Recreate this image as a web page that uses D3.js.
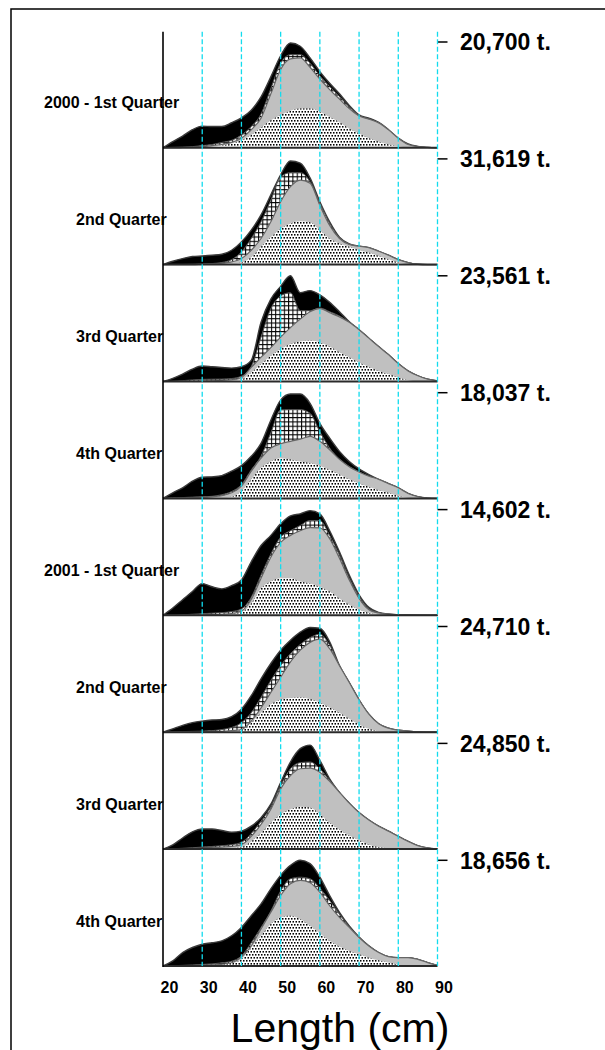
<!DOCTYPE html>
<html><head><meta charset="utf-8">
<script src="https://cdn.jsdelivr.net/npm/d3@7"></script>
<style>html,body{margin:0;padding:0;background:#fff;}svg{display:block;}</style>
</head><body><svg id="c" width="605" height="1050"></svg>
<script>
// Length classes (cm)
const lengths = [20,22.5,25,27.5,30,32.5,35,37.5,40,42.5,45,47.5,50,52.5,55,57.5,60,62.5,65,67.5,70,72.5,75,77.5,80,82.5,85,87.5,90];
const xTicks = [20,30,40,50,60,70,80,90];
const quarterLabels = ["2000 - 1st Quarter","2nd Quarter","3rd Quarter","4th Quarter","2001 - 1st Quarter","2nd Quarter","3rd Quarter","4th Quarter"];
const catchTonnes = [20700,31619,23561,18037,14602,24710,24850,18656];

// Cumulative upper edge (% of panel maximum) of each stacked layer, per quarter
const dotsTop = [
 [0,0,0.1,0.3,0.6,1,2,4,7,12,19,26,31,35,37,37,34,29,24,18,13.5,9,5.7,3,1.2,0.4,0.1,0,0],
 [0,0,0,0,0,0.2,0.4,1,2,7,16.8,26,34,39,41,40,32.6,24.7,20,16.8,13.6,11.4,8.2,5,1.9,0.3,0,0,0],
 [0,0,0,0,0.2,0.3,0.5,1,2,8.6,16.5,24.4,30.8,35.5,37.8,38.7,37,33,27.6,22.9,18,14,10,7,3.8,1.3,0.3,0,0],
 [0,0,0.1,0.2,0.3,0.6,1,1.6,7,18,29,35,38,36.7,35,33.5,31,27,22.6,18,14,11,7.8,5.3,2.2,0.6,0,0,0],
 [0,0,0,0,0,0.2,0.5,1.2,3,11,25.6,32,35,35,32,30,27,22.5,16,10,5.3,2.2,0.6,0,0,0,0,0,0],
 [0,0,0,0,0,0.1,0.3,0.8,1.9,9,18.5,26.5,30.7,32.3,33,31.3,28,23.3,18.5,12.8,7.3,3.2,1,0.3,0,0,0,0,0],
 [0,0,0,0,0,0.1,0.3,0.8,1.9,7.3,15.3,25,33,37.7,40,39.3,33,25,18.5,12.8,8.3,4.2,1.9,0.6,0,0,0,0,0],
 [0,0,0,0,0.2,0.5,1,2.5,6.5,17.5,28.6,39.7,46,47.6,44.4,38,31,23.8,18.4,14.3,11,7.9,5.4,3.2,1.3,0.6,0,0,0]
];
const grayTop = [
 [0,0,0.2,0.5,1,2,3,5,9,17,28,51,74,84,85,76,65,55,46,37,30,27,23.5,17,9,3,1,0.3,0],
 [0,0,0,0,0.3,0.6,1.3,2.5,5.7,13.6,24.7,40.5,59.5,73.7,80,77,56,37,24.7,19,17.4,16,12.6,8.9,4.7,1.9,0.3,0,0],
 [0,0,0,0.2,0.5,0.7,1,1.5,3.8,13.3,23,32,42,51,59,66,69,65,61,56,49,41,33,25.4,17,10,5.4,2.2,0.6],
 [0,0.2,0.4,0.8,1,1.5,2.5,5.3,11.6,25.7,38,47.6,51.7,54,56,58.6,54,46,37,30,25,21,18,14,10,4.7,1.6,0.3,0],
 [0,0,0.1,0.2,0.5,0.7,1,1.5,4,15,35,55,69,75.6,80,83,82.8,72.5,54,33.4,16,5.3,2.2,0.9,0.6,0.3,0.1,0,0],
 [0,0,0,0.1,0.3,0.5,0.8,1.5,2.5,10.5,23,37.7,52,66.5,77.6,85,88,79,63,47,30.7,17,8,3.8,1.9,1,0.3,0,0],
 [0,0,0.3,0.6,1,1.3,1.9,2.5,4.2,12,23.3,37.7,57,69.6,76,76.7,72.8,64,53.7,43.5,34.5,27.5,21.7,17,12,7.3,3.2,1,0],
 [0,0,0,0.3,0.6,1,1.6,3,8.5,19,35,50.8,66.7,77.8,81,78.7,69.8,57,46,36.5,27,19,12.7,8.9,7.9,7.9,6.3,3.2,0.6]
];
const gridTop = [
 [0,0.3,0.6,1,2,3,5,7,12,20,32,56,80,88,88,80,68,58,48.5,38.5,30.5,27,23.5,17,9,3,1,0.3,0],
 [0,0.1,0.1,0.3,0.6,1,2,4.7,12,24.7,40.5,61,83,87,87,78.5,58,39,25.5,19.5,17.4,16,12.6,8.9,4.7,1.9,0.3,0,0],
 [0,0.3,0.8,1.5,2,2.2,2.3,2.8,5,14,42,69,81,84,67,67,69.5,66,62,56,49,41,33,25.4,17,10,5.4,2.2,0.6],
 [0,0.5,0.8,1.2,1.5,2,3.5,6.5,13,27,40,62,83.7,84,84,80.5,63,47.6,37,30,25,21,18,14,10,4.7,1.6,0.3,0],
 [0,0.2,0.5,1,1.5,2,2.5,3.5,6,17,38,58,74,80,85,89.7,89.7,75.6,57,35,17.8,6,2.4,1,0.6,0.3,0.1,0,0],
 [0,0.3,0.6,0.8,1,1.5,2.5,4.5,9,18.5,33,49,63,74.4,83,89.5,92.7,82.4,63,47,30.7,17,8,3.8,1.9,1,0.3,0,0],
 [0,0.3,0.8,1.3,1.9,2.5,3.2,4.2,6.4,14.7,26.5,40,60,76,81.8,82.4,76,65,53.7,43.5,34.5,27.5,21.7,17,12,7.3,3.2,1,0],
 [0,0.3,0.6,1,1.5,2,3,4.5,9.5,22,36.5,52,71,82.5,84,82.5,73.6,62,49,37,27,19,12.7,8.9,7.9,7.9,6.3,3.2,0.6]
];
const blackTop = [
 [0,5.7,11,17,20.4,20,20,23.6,28.3,35.5,48,67,87,99,96,85,72,61,51,40,31,28,24,17,9,3.5,1.2,0.3,0],
 [0,3.2,5.7,7.6,8.2,8.9,9.8,13.6,21.5,32.6,47,66,85,98,96,82,59.5,40.5,26,19.5,17.4,16,12.6,8.9,4.7,1.9,0.3,0,0],
 [0,3,7,11.7,14.6,14,13.3,12.7,14,20,56,78,90,100,84,86,82,75,66,56.5,49,41,33,25.4,17,10,5.4,2.2,0.6],
 [0,5.3,10,16.3,20,20.4,21.6,25.7,31,39.8,52,74,93,98.7,98.7,90,71,57,44.5,35,28,22.6,18,14,10,4.7,1.6,0.3,0],
 [0,6.9,14.7,22.5,30,27,25,28,33.4,50.6,66,75.6,86.5,94,96,99,96,80,60,38,19.4,7.5,2.8,1.2,0.6,0.3,0.1,0,0],
 [0,3.2,6.4,9,10.5,11.5,12,14.7,21.7,34.5,50.5,65,77.6,87,94.6,99,98.4,85.6,63,47,30.7,17,8,3.8,1.9,1,0.3,0,0],
 [0,4,10.5,16.3,19,19,17.6,16,17,21.7,29.7,42.5,63,82.4,95,98.4,84,66.5,53.7,43.5,34.5,27.5,21.7,17,12,7.3,3.2,1,0],
 [0,4.8,12.7,17.5,20.6,22,23.8,28.6,36.5,47.6,58.7,73,85.7,95.2,100,96.8,84,66.7,50.8,38,27.5,19,12.7,8.9,7.9,7.9,6.3,3.2,0.6]
];

const svg = d3.select("#c");
const font = "'Liberation Sans', Arial, Helvetica, sans-serif";
const defs = svg.append("defs");
const pd = defs.append("pattern").attr("id","dots").attr("patternUnits","userSpaceOnUse").attr("width",6).attr("height",6);
pd.append("rect").attr("width",6).attr("height",6).attr("fill","#fff");
[[0,0],[3,0],[1.5,3],[4.5,3]].forEach(([a,b]) =>
  pd.append("rect").attr("x",a).attr("y",b).attr("width",1.5).attr("height",1.6).attr("fill","#000"));
const pg = defs.append("pattern").attr("id","grid").attr("patternUnits","userSpaceOnUse").attr("width",4.3).attr("height",4.3);
pg.append("rect").attr("width",4.3).attr("height",4.3).attr("fill","#fff");
pg.append("path").attr("d","M0,0.5H4.3M0.5,0V4.3").attr("stroke","#000").attr("stroke-width",1.1);

// frame
svg.append("rect").attr("x",11).attr("y",9).attr("width",640).attr("height",1100)
  .attr("fill","none").attr("stroke","#000").attr("stroke-width",1.5);

const x = d3.scaleLinear().domain([20,90]).range([163,437.5]);
const firstBase = 147.7, step = 116.9, panelH = 105.7;
const nP = quarterLabels.length;

for (let p = 0; p < nP; p++) {
  const base = firstBase + step*p;
  const y = d3.scaleLinear().domain([0,100]).range([base, base - panelH]);
  const g = svg.append("g");
  const mk = arr => d3.area().x((d,i)=>x(lengths[i])).y0(y(0)).y1((d,i)=>y(arr[i])).curve(d3.curveMonotoneX);
  const ln = arr => d3.line().x((d,i)=>x(lengths[i])).y((d,i)=>y(arr[i])).curve(d3.curveMonotoneX);
  g.append("path").datum(lengths).attr("d", mk(blackTop[p])).attr("fill","#000");
  g.append("path").datum(lengths).attr("d", ln(blackTop[p])).attr("fill","none").attr("stroke","#3a3a3a").attr("stroke-width",1.4);
  g.append("path").datum(lengths).attr("d", mk(gridTop[p])).attr("fill","url(#grid)");
  g.append("path").datum(lengths).attr("d", ln(gridTop[p])).attr("fill","none").attr("stroke","#555").attr("stroke-width",1);
  g.append("path").datum(lengths).attr("d", mk(grayTop[p])).attr("fill","#c0c0c0");
  g.append("path").datum(lengths).attr("d", ln(grayTop[p])).attr("fill","none").attr("stroke","#666").attr("stroke-width",1.2);
  g.append("path").datum(lengths).attr("d", mk(dotsTop[p])).attr("fill","url(#dots)");
  // baseline
  g.append("line").attr("x1",x(20)).attr("x2",x(90)).attr("y1",base).attr("y2",base)
    .attr("stroke","#2a2a2a").attr("stroke-width",2);
  // right tick at panel maximum and catch label
  g.append("line").attr("x1",x(90)).attr("x2",x(90)+10).attr("y1",y(100)).attr("y2",y(100))
    .attr("stroke","#000").attr("stroke-width",1.5);
  g.append("text").attr("x",460).attr("y",y(100)).attr("dy","0.36em")
    .attr("font-family",font).attr("font-size",23).attr("font-weight","bold")
    .text(d3.format(",")(catchTonnes[p]) + " t.");
  // quarter label
  const lbl = quarterLabels[p];
  g.append("text").attr("x", /^\d{4}/.test(lbl) ? 44 : 76).attr("y", base - 45).attr("dy","0.36em")
    .attr("font-family",font).attr("font-size",16).attr("font-weight","bold").text(lbl);
}

const bottomY = firstBase + step*(nP-1);
const topY = firstBase - step + 1;
// cyan dashed guides
svg.append("g").selectAll("line").data(xTicks.filter(v=>v>20)).join("line")
  .attr("x1",d=>x(d)).attr("x2",d=>x(d)).attr("y1",topY).attr("y2",bottomY)
  .attr("stroke","#12dcee").attr("stroke-width",1.3).attr("stroke-dasharray","5,2.5");
// left axis
svg.append("line").attr("x1",x(20)).attr("x2",x(20)).attr("y1",topY).attr("y2",bottomY+1)
  .attr("stroke","#000").attr("stroke-width",1.6);
// x tick labels
svg.append("g").selectAll("text").data(xTicks).join("text")
  .attr("x",d=>x(d)+6.5).attr("y",993).attr("text-anchor","middle")
  .attr("font-family",font).attr("font-size",16).attr("font-weight","bold").text(d=>d);
svg.append("text").attr("x",340).attr("y",1042).attr("text-anchor","middle")
  .attr("font-family",font).attr("font-size",41).text("Length (cm)");
</script></body></html>
